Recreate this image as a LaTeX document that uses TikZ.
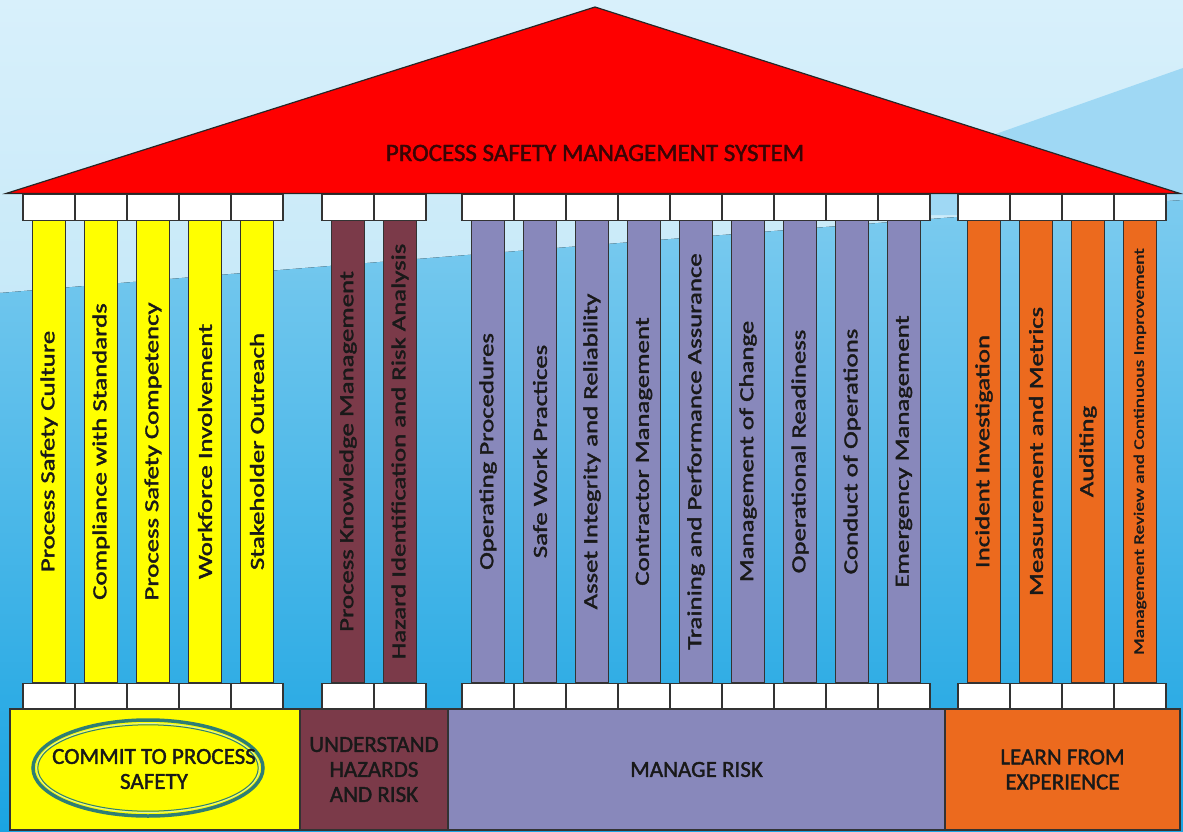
\documentclass[tikz,border=0pt]{standalone}
\usepackage{fontspec}
\setmainfont{Carlito}[BoldFont=Carlito, BoldFeatures={FakeBold=1.6}]

\definecolor{skytop}{HTML}{D8F0FB}
\definecolor{skymid}{HTML}{A9DDF4}
\definecolor{seatop}{HTML}{7CCBEF}
\definecolor{seabot}{HTML}{1AA4E2}
\definecolor{swoosh}{HTML}{9FD8F4}
\definecolor{roofred}{HTML}{FE0000}
\definecolor{roofink}{HTML}{3A0505}
\definecolor{commitcol}{HTML}{FFFF00}
\definecolor{hazardcol}{HTML}{7B3A49}
\definecolor{riskcol}{HTML}{8888BB}
\definecolor{learncol}{HTML}{EC6A1E}
\definecolor{ringcol}{HTML}{2E7E74}
\definecolor{ringlight}{HTML}{DDF2A8}
\definecolor{edgecol}{HTML}{333333}

% one row of pillars: name, left x, fill, labels
\newcommand\pillarrow[4]{%
  \foreach \lbl [count=\k from 0] in {#4} {
    \pgfmathsetmacro\cx{#2+52*\k+26}
    \node[shaft, fill=#3] (#1col\k) at (\cx,451.5) {};
    \node[capital] (#1top\k) at (\cx,207.5) {};
    \node[capital] (#1bot\k) at (\cx,696) {};
    \node[pillarlabel] (#1lbl\k) at (#1col\k.center) {\lbl};
  }}

\begin{document}
\begin{tikzpicture}[x=1pt, y=-1pt, line width=1.2pt,
  capital/.style={draw=edgecol, fill=white, minimum width=52pt, minimum height=25.5pt, inner sep=0pt},
  shaft/.style={draw=edgecol, minimum width=33pt, minimum height=463pt, inner sep=0pt},
  pillarlabel/.style={rotate=90, xscale=1.34, inner sep=0pt, text=black!90, font=\fontsize{20}{20}\selectfont\bfseries},
  plinth/.style={draw=edgecol, minimum height=121pt, inner sep=0pt},
  blocklabel/.style={align=center, text=black!90, font=\fontsize{23}{25}\selectfont\bfseries}]

  \useasboundingbox (0,0) rectangle (1183,832);

  % sky
  \fill[top color=skytop, bottom color=skymid] (0,0) rectangle (1183,832);
  \fill[swoosh] (990,136) -- (1183,68) -- (1183,215) -- (900,215) -- cycle;
  \fill[top color=seatop, bottom color=seabot]
    (0,293) .. controls (300,268) and (700,236) .. (1183,200) -- (1183,832) -- (0,832) -- cycle;

  % plinths
  \node[plinth, fill=commitcol, minimum width=290pt] (commit) at (155,769.5) {};
  \node[plinth, fill=hazardcol, minimum width=148pt] (hazard) at (374,769.5) {};
  \node[plinth, fill=riskcol, minimum width=497pt] (risk) at (696.5,769.5) {};
  \node[plinth, fill=learncol, minimum width=235pt] (learn) at (1062.5,769.5) {};

  \draw[ringcol, line width=3.5pt] (148,768) ellipse [x radius=115, y radius=48];
  \draw[ringlight, line width=0.8pt] (148,768) ellipse [x radius=111.5, y radius=44.5];
  \draw[ringcol, line width=1pt] (148,768) ellipse [x radius=110.2, y radius=43.2];

  \node[blocklabel] (commitlbl) at (154,769) {COMMIT TO PROCESS\\SAFETY};
  \node[blocklabel] (hazardlbl) at (hazard.center) {UNDERSTAND\\HAZARDS\\AND RISK};
  \node[blocklabel] (risklbl) at (risk.center) {MANAGE RISK};
  \node[blocklabel] (learnlbl) at (learn.center) {LEARN FROM\\EXPERIENCE};

  % pillars
  \pillarrow{c}{23}{commitcol}{Process Safety Culture, Compliance with Standards,
    Process Safety Competency, Workforce Involvement, Stakeholder Outreach}
  \pillarrow{h}{322}{hazardcol}{Process Knowledge Management,
    Hazard Identification and Risk Analysis}
  \pillarrow{r}{462}{riskcol}{Operating Procedures, Safe Work Practices,
    Asset Integrity and Reliability, Contractor Management,
    Training and Performance Assurance, Management of Change,
    Operational Readiness, Conduct of Operations, Emergency Management}
  \pillarrow{l}{958}{learncol}{Incident Investigation, Measurement and Metrics, Auditing,
    \fontsize{14.5}{14.5}\selectfont Management Review and Continuous Improvement}

  % roof
  \draw[fill=roofred, draw=black!85] (6,193.5) -- (595,7) -- (1180,193.5) -- cycle;
  \node[text=roofink, font=\fontsize{25}{25}\selectfont\bfseries] (roof) at (595,153)
    {PROCESS SAFETY MANAGEMENT SYSTEM};
\end{tikzpicture}
\end{document}
